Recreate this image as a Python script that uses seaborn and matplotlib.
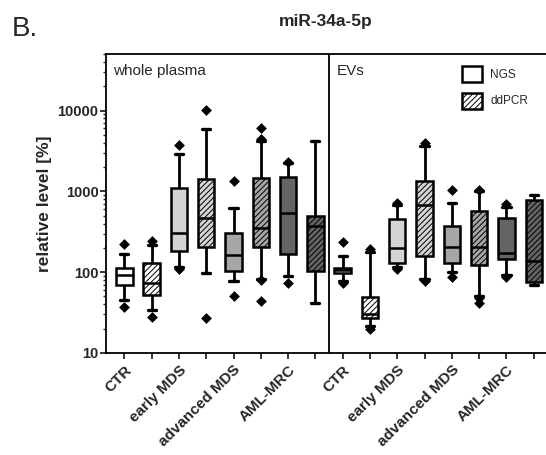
import numpy as np
import pandas as pd
import matplotlib
matplotlib.use("Agg")
import matplotlib.pyplot as plt
import seaborn as sns
from matplotlib.patches import Patch

# ---------------- data ----------------
panels = ["whole plasma"] * 8 + ["EVs"] * 8
groups = ["CTR", "CTR", "early MDS", "early MDS", "advanced MDS", "advanced MDS",
          "AML-MRC", "AML-MRC"] * 2
methods = ["NGS", "ddPCR"] * 8

whisker_low = [45.5, 34, 115, 98, 78.7, 82.5, 89, 41,
               77, 21.5, 115, 82.5, 100, 51, 91, 69.5]
quartile1 = [69.5, 52.6, 185, 205, 103, 205, 166, 102,
             98, 27.4, 131, 158, 131, 124, 144, 76.5]
median = [91, 73.6, 301, 464, 165, 348, 536, 372,
          105, 30.1, 200, 668, 205, 205, 173, 139]
quartile3 = [112, 130, 1101, 1426, 301, 1453, 1496, 497,
             113, 48.7, 455, 1360, 369, 573, 464, 772]
whisker_high = [170, 215, 2873, 5843, 619, 4217, 2250, 4217,
                158, 178, 681, 3652, 714, 1000, 649, 891]

# outliers: (box index, value)
outlier_box = [0, 0, 1, 1, 2, 2, 3, 3, 4, 4, 5, 5, 5, 5, 6, 6,
               8, 8, 9, 9, 10, 10, 11, 11, 12, 12, 13, 13, 13, 14, 14]
outlier_value = [226, 37.6, 242, 27.9, 3758, 110, 10190, 26.8, 1334, 50.6,
                 6070, 4400, 79, 43.8, 2330, 73.6,
                 237, 73, 192, 20, 714, 111, 3908, 78.7, 1049, 88,
                 1049, 47.3, 41.4, 690, 87]

group_colors = {"CTR": "#ffffff", "early MDS": "#d4d4d4",
                "advanced MDS": "#a6a6a6", "AML-MRC": "#646464"}

# ---------------- build tables ----------------
box_ids = [f"{p}|{g}|{m}" for p, g, m in zip(panels, groups, methods)]
rows = []
for i, b in enumerate(box_ids):
    for v in (whisker_low[i], quartile1[i], median[i], quartile3[i], whisker_high[i]):
        rows.append({"box": b, "value": v})
df = pd.DataFrame(rows)
out_df = pd.DataFrame({"box": [box_ids[i] for i in outlier_box], "value": outlier_value})
palette = {b: group_colors[g] for b, g in zip(box_ids, groups)}

# ---------------- style ----------------
sns.set_style("ticks")
plt.rcParams["font.family"] = ["Liberation Sans", "DejaVu Sans"]
plt.rcParams["hatch.linewidth"] = 0.7

fig = plt.figure(figsize=(5.46, 4.55), dpi=100)
ax = fig.add_axes([105.5 / 546, 1 - 353 / 455, 1 - 105.5 / 546, (353 - 54) / 455])

sns.boxplot(data=df, x="box", y="value", hue="box", order=box_ids, hue_order=box_ids,
            palette=palette, legend=False, whis=(0, 100), width=0.6,
            linewidth=1.8, linecolor="black", saturation=1, log_scale=True,
            showfliers=False, ax=ax,
            whiskerprops={"linewidth": 2.0}, capprops={"linewidth": 2.4},
            medianprops={"linewidth": 1.8})
sns.stripplot(data=out_df, x="box", y="value", order=box_ids, jitter=False,
              marker="D", color="black", size=5.5, ax=ax, linewidth=0)

# hatch the ddPCR boxes
for patch in ax.patches:
    ext = patch.get_path().get_extents()
    idx = int(round((ext.x0 + ext.x1) / 2))
    if 0 <= idx < 16 and methods[idx] == "ddPCR":
        patch.set_hatch("//////")

ax.set_yscale("log")
ax.set_ylim(10, 50000)
ax.set_xlim(-0.69, 15.45)
ax.axvline(7.5, color="black", lw=1.3)

ax.set_yticks([10, 100, 1000, 10000])
ax.set_yticklabels(["10", "100", "1000", "10000"], fontsize=10.5, fontweight="bold")
ax.yaxis.set_minor_locator(matplotlib.ticker.LogLocator(base=10, subs=np.arange(2, 10)))
ax.yaxis.set_minor_formatter(matplotlib.ticker.NullFormatter())
ax.tick_params(axis="y", which="major", length=4, width=1.3, pad=1)
ax.tick_params(axis="y", which="minor", length=2.5, width=1.0)

xt_labels = [groups[i] if methods[i] == "NGS" else "" for i in range(16)]
ax.set_xticks(range(16))
ax.set_xticklabels(xt_labels, rotation=45, ha="right", rotation_mode="anchor",
                   fontsize=11, fontweight="bold")
ax.tick_params(axis="x", length=4, width=1.3, pad=3)
ax.set_xlabel("")
ax.set_ylabel("relative level [%]", fontsize=12.5, fontweight="bold", labelpad=4)

for s in ["left", "bottom", "top"]:
    ax.spines[s].set_visible(True)
    ax.spines[s].set_linewidth(1.3)
    ax.spines[s].set_color("black")
ax.spines["right"].set_visible(False)

ax.text(113 / 546, 1 - 75 / 455, "whole plasma", transform=fig.transFigure,
        fontsize=11, ha="left", va="baseline")
ax.text(337 / 546, 1 - 75 / 455, "EVs", transform=fig.transFigure,
        fontsize=11, ha="left", va="baseline")

fig.text(0.5 * (105.5 + 546) / 546, 1 - 26 / 455, "miR-34a-5p", fontsize=12.5,
         fontweight="bold", ha="center", va="baseline")
fig.text(12 / 546, 1 - 36 / 455, "B.", fontsize=20, ha="left", va="baseline")

handles = [Patch(facecolor="white", edgecolor="black", linewidth=1.8),
           Patch(facecolor="white", edgecolor="black", linewidth=1.8, hatch="//////")]
ax.legend(handles, ["NGS", "ddPCR"], loc="upper left", frameon=False,
          bbox_to_anchor=(462 / 546, 1 - 66 / 455), bbox_transform=fig.transFigure,
          fontsize=8.5, handlelength=1.7, handleheight=1.7, handletextpad=0.7,
          labelspacing=0.9, borderpad=0, borderaxespad=0)

fig.savefig("out.png", dpi=100)
